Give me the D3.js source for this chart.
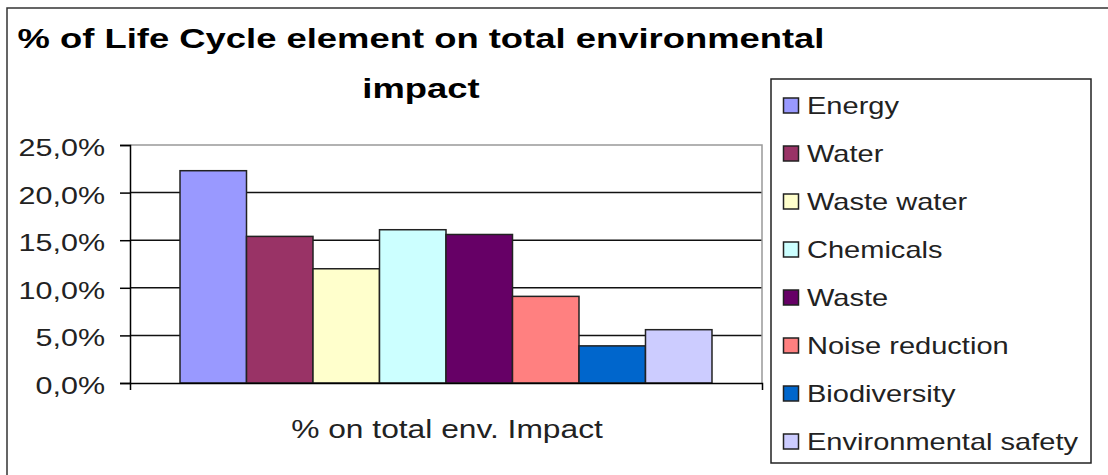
<!DOCTYPE html>
<html>
<head>
<meta charset="utf-8">
<script src="https://cdn.jsdelivr.net/npm/d3@7"></script>
<style>
  html, body { margin: 0; padding: 0; background: #fff; }
  svg { display: block; }
  text { font-family: "Liberation Sans", Arial, sans-serif; fill: #000; }
</style>
</head>
<body>
<svg id="chart" width="1108" height="475"></svg>
<script>
// ---- data ----
const titleLines = ["% of Life Cycle element on total environmental", "impact"];
const category = "% on total env. Impact";
const seriesNames = ["Energy", "Water", "Waste water", "Chemicals", "Waste", "Noise reduction", "Biodiversity", "Environmental safety"];
const seriesValues = [0.223, 0.154, 0.120, 0.161, 0.156, 0.091, 0.039, 0.056];
const seriesColors = ["#9999FF", "#993366", "#FFFFCC", "#CCFFFF", "#660066", "#FF8080", "#0066CC", "#CCCCFF"];
const yTicks = [0, 0.05, 0.10, 0.15, 0.20, 0.25];

// ---- layout ----
const svg = d3.select("#chart");
const plot = { left: 130, right: 762, top: 145, bottom: 383 };
const SX = 1.24; // horizontal stretch of the original rendering

const locale = d3.formatLocale({ decimal: ",", thousands: ".", grouping: [3], currency: ["", "€"] });
const fmt = locale.format(".1%");

function stretchedText(parent, x, y, str, opts) {
  const g = parent.append("g").attr("transform", `translate(${x},${y})`);
  const t = g.append("text")
    .attr("transform", `scale(${opts.sx || SX},1)`)
    .attr("text-anchor", opts.anchor || "start")
    .style("font-size", opts.size + "px")
    .style("font-weight", opts.weight || "normal")
    .text(str);
  if (opts.fill) t.style("fill", opts.fill);
  return t;
}

// outer chart border (extends past the right/bottom edges)
svg.append("rect").attr("x", 7).attr("y", 8).attr("width", 1200).attr("height", 600)
  .attr("fill", "none").attr("stroke", "#333").attr("stroke-width", 1.5);

// scales
const y = d3.scaleLinear().domain([0, 0.25]).range([plot.bottom, plot.top]);
const x0 = d3.scaleBand().domain([category]).range([plot.left, plot.right]).paddingInner(0).paddingOuter(0.094);
const x1 = d3.scaleBand().domain(seriesNames).range([0, x0.bandwidth()]).padding(0);

// gridlines
svg.append("g").selectAll("line").data(yTicks.filter(d => d > 0 && d < 0.25)).join("line")
  .attr("x1", plot.left).attr("x2", plot.right)
  .attr("y1", d => y(d)).attr("y2", d => y(d))
  .attr("stroke", "#111").attr("stroke-width", 1.5);

// plot area border top/right (gray)
svg.append("path")
  .attr("d", `M${plot.left},${plot.top}H${plot.right}V${plot.bottom}`)
  .attr("fill", "none").attr("stroke", "#999").attr("stroke-width", 1.5);

// bars
svg.append("g").selectAll("rect").data(seriesNames).join("rect")
  .attr("x", (d) => x0(category) + x1(d))
  .attr("width", x1.bandwidth())
  .attr("y", (d, i) => y(seriesValues[i]))
  .attr("height", (d, i) => y(0) - y(seriesValues[i]))
  .attr("fill", (d, i) => seriesColors[i])
  .attr("stroke", "#222").attr("stroke-width", 1.5);

// y axis
const yAxis = d3.axisLeft(y).tickValues(yTicks).tickSize(10).tickFormat("");
const gy = svg.append("g").attr("transform", `translate(${plot.left},0)`).call(yAxis);
gy.select(".domain").attr("stroke", "#000").attr("stroke-width", 1.5);
gy.selectAll(".tick line").attr("stroke", "#000").attr("stroke-width", 1.5);
yTicks.forEach(v => {
  stretchedText(svg, 105, y(v) + 11, fmt(v), { size: 24, anchor: "end", sx: 1.27, fill: "#222" });
});

// x axis
const xAxis = d3.axisBottom(x0).tickSizeInner(0).tickSizeOuter(7).tickFormat("");
const gx = svg.append("g").attr("transform", `translate(0,${plot.bottom})`).call(xAxis);
gx.select(".domain").attr("stroke", "#000").attr("stroke-width", 1.5);
stretchedText(svg, (plot.left + plot.right) / 2 + 1, 438, category, { size: 25, anchor: "middle", sx: 1.27, fill: "#222" });

// title
stretchedText(svg, 421, 48, titleLines[0], { size: 28, weight: "bold", anchor: "middle", sx: 1.3 });
stretchedText(svg, 421, 98, titleLines[1], { size: 28, weight: "bold", anchor: "middle", sx: 1.3 });

// legend
const lg = svg.append("g");
lg.append("rect").attr("x", 771).attr("y", 79).attr("width", 320).attr("height", 384)
  .attr("fill", "#fff").attr("stroke", "#222").attr("stroke-width", 1.5);
const rowY = d3.scalePoint().domain(seriesNames).range([105.5, 441.5]);
seriesNames.forEach((name, i) => {
  const cy = rowY(name);
  lg.append("rect").attr("x", 783.5).attr("y", cy - 7.5).attr("width", 15).attr("height", 15)
    .attr("fill", seriesColors[i]).attr("stroke", "#222").attr("stroke-width", 1.5);
  stretchedText(lg, 807, cy + 8, name, { size: 24, anchor: "start", sx: 1.21, fill: "#222" });
});
</script>
</body>
</html>
